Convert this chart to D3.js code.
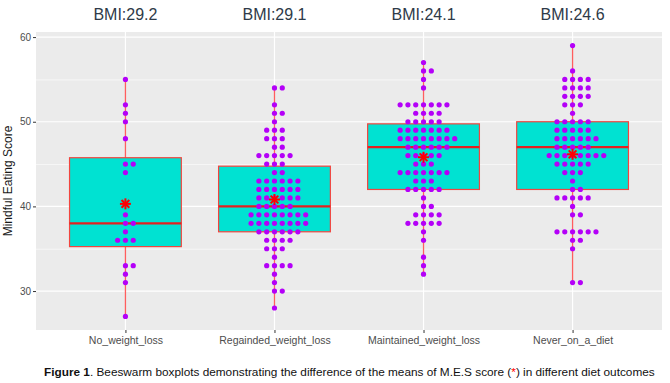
<!DOCTYPE html>
<html>
<head>
<meta charset="utf-8">
<script src="https://cdn.jsdelivr.net/npm/d3@7"></script>
<style>
  body { margin: 0; background: #ffffff; }
  svg { display: block; font-family: "Liberation Sans", Arial, sans-serif; }
  .tick-label { fill: #4d4d4d; font-size: 10px; }
  .x-label { fill: #4d4d4d; font-size: 10.5px; }
  .bmi-label { fill: #2e3a48; font-size: 16px; }
</style>
</head>
<body>
<div id="chart-area"></div>
<script>
// data: [score, how many people with that score]
const categories = ["No_weight_loss", "Regainded_weight_loss", "Maintained_weight_loss", "Never_on_a_diet"]
const bmiLabels = ["BMI:29.2", "BMI:29.1", "BMI:24.1", "BMI:24.6"]

const noWeightLoss = [[55,1],[52,1],[51,1],[50,1],[48,1],[45,2],[44,1],[39,1],[38,2],[37,1],[36,3],[33,2],[32,1],[31,1],[27,1]]
const regainedWeightLoss = [[54,2],[52,1],[51,2],[50,1],[49,3],[48,3],[47,2],[46,5],[45,3],[44,2],[43,6],[42,6],[41,6],[40,5],
  [39,8],[38,8],[37,6],[36,4],[35,3],[34,1],[33,4],[32,1],[31,1],[30,2],[28,1]]
const maintainedWeightLoss = [[57,1],[56,2],[55,1],[54,1],[52,7],[51,4],[50,5],[49,7],[48,8],[47,6],[46,5],[45,3],[44,7],[43,3],
  [42,5],[41,1],[40,2],[39,4],[38,5],[37,1],[36,1],[34,1],[33,1],[32,1]]
const neverOnADiet = [[59,1],[56,1],[55,4],[54,4],[53,4],[52,3],[51,1],[50,5],[49,5],[48,6],[47,5],[46,8],[45,5],[44,3],[43,1],
  [42,2],[41,5],[40,1],[39,2],[37,6],[36,2],[35,1],[31,2]]

const yTicks = [30, 40, 50, 60]
const yMinorTicks = [35, 45, 55]

async function drawChart() {

  // 1. Access data
  const groups = [noWeightLoss, regainedWeightLoss, maintainedWeightLoss, neverOnADiet].map((counts, i) => {
    const scores = counts.flatMap(([v, n]) => d3.range(n).map(() => v)).sort(d3.ascending)
    const q1 = d3.quantile(scores, 0.25)
    const q3 = d3.quantile(scores, 0.75)
    const iqr = q3 - q1
    return {
      category: categories[i],
      bmi: bmiLabels[i],
      counts,
      scores,
      q1, q3,
      median: d3.quantile(scores, 0.5),
      mean: d3.mean(scores),
      low: d3.min(scores.filter(s => s >= q1 - 1.5 * iqr)),
      high: d3.max(scores.filter(s => s <= q3 + 1.5 * iqr)),
    }
  })

  // 2. Create chart dimensions
  let dimensions = {
    width: 670,
    height: 383,
    margin: { top: 32, right: 8, bottom: 53, left: 36 },
  }
  dimensions.boundedWidth = dimensions.width - dimensions.margin.left - dimensions.margin.right
  dimensions.boundedHeight = dimensions.height - dimensions.margin.top - dimensions.margin.bottom

  // 3. Draw canvas
  const wrapper = d3.select("#chart-area")
    .append("svg")
      .attr("width", dimensions.width)
      .attr("height", dimensions.height)

  const bounds = wrapper.append("g")
      .attr("transform", `translate(${dimensions.margin.left},${dimensions.margin.top})`)

  // 4. Create scales
  const allScores = groups.flatMap(g => g.scores)
  const [yMin, yMax] = d3.extent(allScores)
  const pad = (yMax - yMin) * 0.05
  const yScale = d3.scaleLinear()
    .domain([yMin - pad, yMax + pad])
    .range([dimensions.boundedHeight, 0])

  const xScale = d3.scalePoint()
    .domain(categories)
    .range([0, dimensions.boundedWidth])
    .padding(0.6)

  const boxWidth = xScale.step() * 0.75
  const dotGap = 7.8

  // 6. Draw peripherals (panel + grid first)
  bounds.append("rect")
    .attr("width", dimensions.boundedWidth)
    .attr("height", dimensions.boundedHeight)
    .attr("fill", "#ebebeb")

  bounds.selectAll(".minor").data(yMinorTicks).join("line")
    .attr("x2", dimensions.boundedWidth)
    .attr("y1", d => yScale(d) + 0.5)
    .attr("y2", d => yScale(d) + 0.5)
    .attr("stroke", "#ffffff")
    .attr("stroke-width", 0.6)

  bounds.selectAll(".major").data(yTicks).join("line")
    .attr("x2", dimensions.boundedWidth)
    .attr("y1", d => yScale(d))
    .attr("y2", d => yScale(d))
    .attr("stroke", "#ffffff")
    .attr("stroke-width", 1.2)

  bounds.selectAll(".vgrid").data(categories).join("line")
    .attr("x1", d => xScale(d))
    .attr("x2", d => xScale(d))
    .attr("y2", dimensions.boundedHeight)
    .attr("stroke", "#ffffff")
    .attr("stroke-width", 1.2)

  // 5. Draw data
  const boxColor = "#f2453f"
  const groupsG = bounds.selectAll(".group").data(groups).join("g")
    .attr("transform", d => `translate(${xScale(d.category)},0)`)

  // whiskers
  groupsG.append("line")
    .attr("y1", d => yScale(d.high))
    .attr("y2", d => yScale(d.low))
    .attr("stroke", "#ff5e5e")
    .attr("stroke-width", 1.3)

  groupsG.append("rect")
    .attr("x", -boxWidth / 2)
    .attr("width", boxWidth)
    .attr("y", d => yScale(d.q3))
    .attr("height", d => yScale(d.q1) - yScale(d.q3))
    .attr("fill", "#00e2d2")
    .attr("stroke", boxColor)
    .attr("stroke-width", 1.2)

  groupsG.append("line")
    .attr("x1", -boxWidth / 2)
    .attr("x2", boxWidth / 2)
    .attr("y1", d => yScale(d.median))
    .attr("y2", d => yScale(d.median))
    .attr("stroke", "#e3201f")
    .attr("stroke-width", 2.2)

  // beeswarm dots: each row centred, extra dot goes right
  groupsG.each(function(g) {
    const dots = g.counts.flatMap(([v, n]) =>
      d3.range(n).map(k => ({ v, offset: k - Math.floor((n - 1) / 2) })))
    d3.select(this).selectAll("circle").data(dots).join("circle")
      .attr("cx", d => d.offset * dotGap)
      .attr("cy", d => yScale(d.v))
      .attr("r", 2.6)
      .attr("fill", "#b400f8")
  })

  // mean star (ggplot shape 8)
  const starR = 5.5
  const star = groupsG.append("g")
    .attr("transform", d => `translate(0,${yScale(d.mean)})`)
  ;[0, 45, 90, 135].forEach(a => {
    const rad = a * Math.PI / 180
    star.append("line")
      .attr("x1", -Math.cos(rad) * starR)
      .attr("y1", -Math.sin(rad) * starR)
      .attr("x2", Math.cos(rad) * starR)
      .attr("y2", Math.sin(rad) * starR)
      .attr("stroke", "#ff0000")
      .attr("stroke-width", 2)
  })

  // axes
  const yAxis = d3.axisLeft(yScale).tickValues(yTicks).tickSize(3).tickPadding(2)
  const yAxisG = bounds.append("g").call(yAxis)
  yAxisG.select(".domain").remove()
  yAxisG.selectAll("line").attr("stroke", "#333333")
  yAxisG.selectAll("text").attr("class", "tick-label").attr("font-family", null).attr("font-size", null).attr("fill", null)

  const xAxis = d3.axisBottom(xScale).tickSize(3).tickPadding(4)
  const xAxisG = bounds.append("g")
    .attr("transform", `translate(0,${dimensions.boundedHeight})`)
    .call(xAxis)
  xAxisG.select(".domain").remove()
  xAxisG.selectAll("line").attr("stroke", "#333333")
  xAxisG.selectAll("text").attr("class", "x-label").attr("font-family", null).attr("font-size", null).attr("fill", null)

  // BMI labels on top
  bounds.selectAll(".bmi").data(groups).join("text")
    .attr("class", "bmi-label")
    .attr("x", d => xScale(d.category))
    .attr("y", -12)
    .attr("text-anchor", "middle")
    .text(d => d.bmi)

  wrapper.append("text")
    .attr("transform", `translate(12,${dimensions.margin.top + dimensions.boundedHeight / 2}) rotate(-90)`)
    .attr("text-anchor", "middle")
    .attr("font-size", 12)
    .attr("fill", "#1a1a1a")
    .text("Mindful Eating Score")

  const caption = wrapper.append("text")
    .attr("x", 44)
    .attr("y", 376)
    .attr("font-size", 11.8)
    .attr("fill", "#111111")
  caption.append("tspan").attr("font-weight", "bold").text("Figure 1")
  caption.append("tspan").text(". Beeswarm boxplots demonstrating the difference of the means of M.E.S score (")
  caption.append("tspan").attr("fill", "#ff0000").text("*")
  caption.append("tspan").text(") in different diet outcomes")

  // 7. Set up interactions
}
drawChart()
</script>
</body>
</html>
